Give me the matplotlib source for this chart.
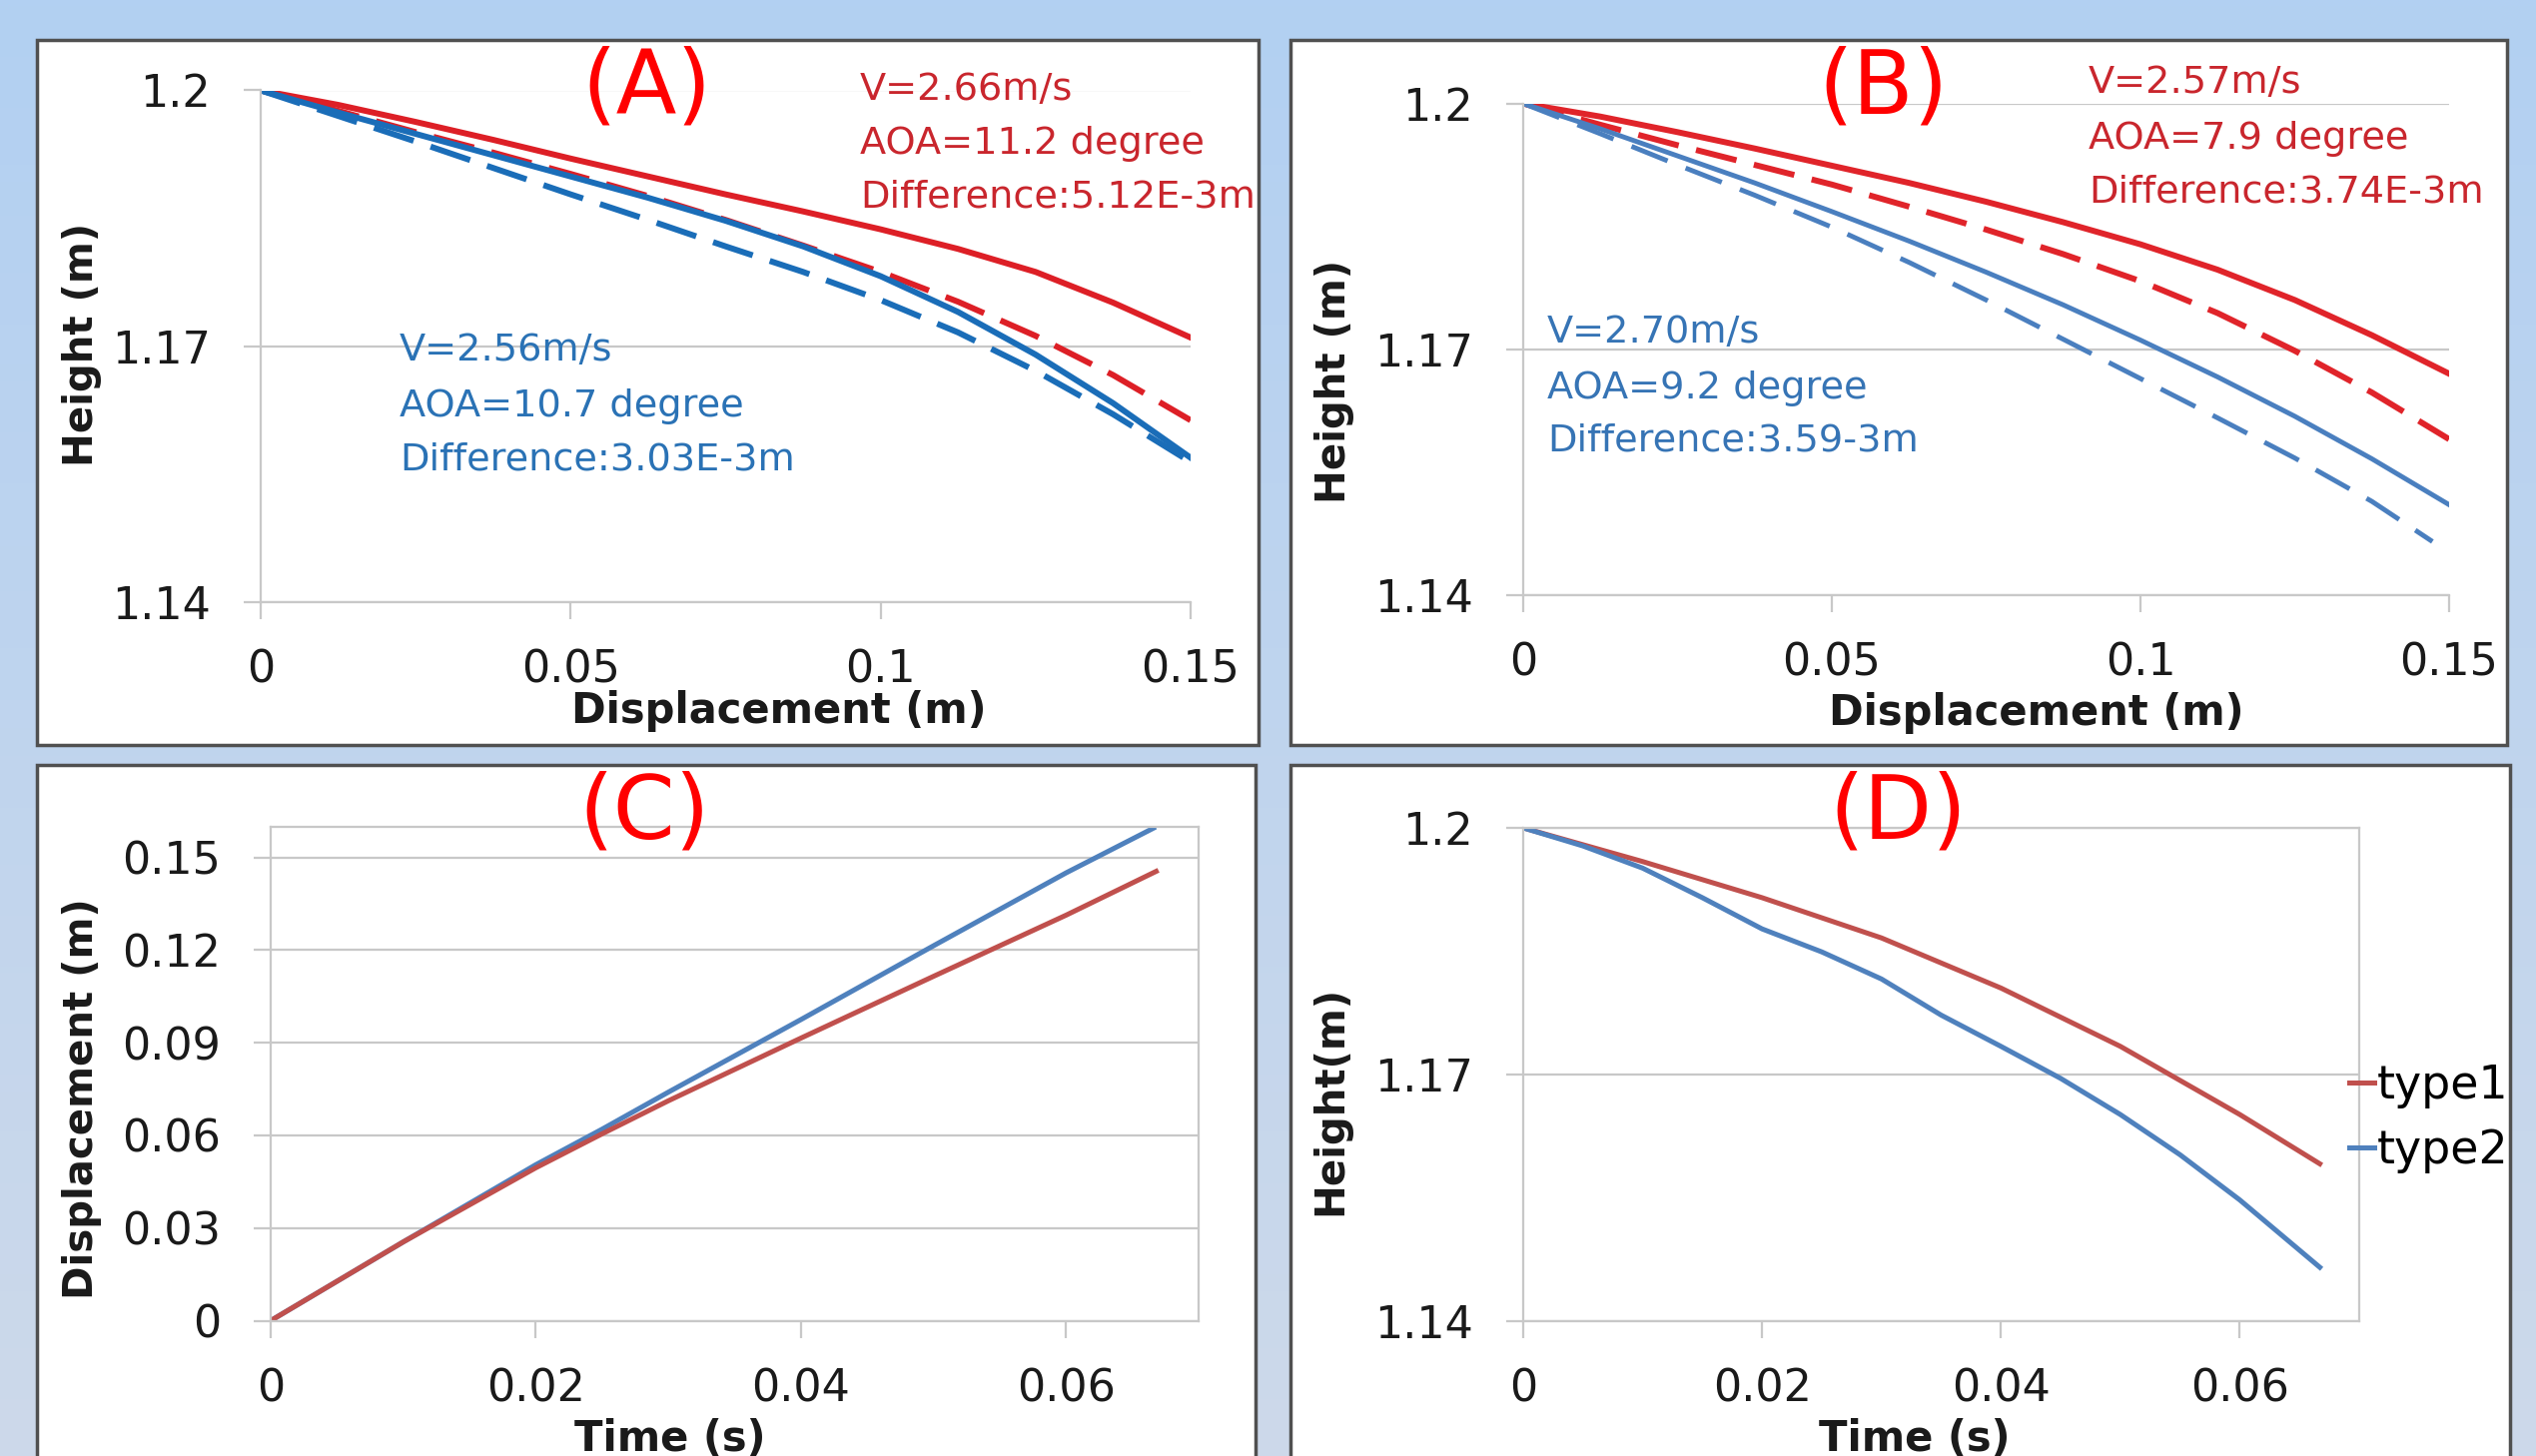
import numpy as np
import matplotlib
matplotlib.use("Agg")
import matplotlib.pyplot as plt
from matplotlib.patches import Rectangle

# ---- data ----
ab_x = [0, 0.0125, 0.025, 0.0375, 0.05, 0.0625, 0.075, 0.0875, 0.1, 0.1125,
        0.125, 0.1375, 0.15]
a_red_solid = [1.2, 1.1983, 1.1963, 1.1942, 1.1920, 1.1899, 1.1878, 1.1858,
               1.1837, 1.1814, 1.1787, 1.1751, 1.1710]
a_red_dash = [1.2, 1.1976, 1.1951, 1.1927, 1.1902, 1.1876, 1.1848, 1.1818,
              1.1787, 1.1752, 1.1712, 1.1666, 1.1613]
a_blue_solid = [1.2, 1.1974, 1.1949, 1.1924, 1.1899, 1.1874, 1.1847, 1.1817,
                1.1782, 1.1740, 1.1690, 1.1633, 1.1569]
a_blue_dash = [1.2, 1.1970, 1.1940, 1.1909, 1.1878, 1.1848, 1.1817, 1.1787,
               1.1754, 1.1716, 1.1671, 1.1620, 1.1564]

b_red_solid = [1.2, 1.1984, 1.1965, 1.1945, 1.1924, 1.1903, 1.1880, 1.1855,
               1.1828, 1.1797, 1.1760, 1.1717, 1.1670]
b_red_dash = [1.2, 1.1974, 1.1949, 1.1925, 1.1901, 1.1874, 1.1846, 1.1816,
              1.1783, 1.1744, 1.1698, 1.1647, 1.1590]
b_blue_solid = [1.2, 1.1969, 1.1936, 1.1903, 1.1868, 1.1832, 1.1794, 1.1754,
                1.1711, 1.1666, 1.1618, 1.1566, 1.1510]
b_blue_dash_x = [0, 0.0125, 0.025, 0.0375, 0.05, 0.0625, 0.075, 0.0875, 0.1,
                 0.1125, 0.125, 0.1375, 0.1473]
b_blue_dash = [1.2, 1.1963, 1.1925, 1.1888, 1.1849, 1.1806, 1.1760, 1.1712,
               1.1664, 1.1616, 1.1567, 1.1514, 1.1465]

c_t1 = [0, 0.01, 0.02, 0.025, 0.03, 0.04, 0.05, 0.06, 0.0668]
c_type1 = [0, 0.0255, 0.0495, 0.0605, 0.0712, 0.0915, 0.1115, 0.1313, 0.1455]
c_t2 = [0, 0.01, 0.02, 0.025, 0.03, 0.04, 0.05, 0.06, 0.0666]
c_type2 = [0, 0.0255, 0.0505, 0.0620, 0.0740, 0.0975, 0.1214, 0.1450, 0.1595]

d_t1 = [0, 0.01, 0.02, 0.03, 0.04, 0.05, 0.06, 0.0667]
d_type1 = [1.2, 1.1959, 1.1915, 1.1866, 1.1805, 1.1734, 1.1651, 1.1591]
d_t2 = [0, 0.005, 0.01, 0.015, 0.02, 0.025, 0.03, 0.035, 0.04, 0.045, 0.05,
        0.055, 0.06, 0.0667]
d_type2 = [1.2, 1.1978, 1.1951, 1.1915, 1.1877, 1.1849, 1.1816, 1.1772, 1.1734,
           1.1695, 1.1651, 1.1602, 1.1547, 1.1465]

h_ticks = [1.14, 1.17, 1.2]
h_labels = ["1.14", "1.17", "1.2"]
disp_ticks = [0, 0.05, 0.1, 0.15]
disp_labels = ["0", "0.05", "0.1", "0.15"]
t_ticks = [0, 0.02, 0.04, 0.06]
t_labels = ["0", "0.02", "0.04", "0.06"]
c_yticks = [0, 0.03, 0.06, 0.09, 0.12, 0.15]
c_ylabels = ["0", "0.03", "0.06", "0.09", "0.12", "0.15"]

notes_a_red = ["V=2.66m/s", "AOA=11.2 degree", "Difference:5.12E-3m"]
notes_a_blue = ["V=2.56m/s", "AOA=10.7 degree", "Difference:3.03E-3m"]
notes_b_red = ["V=2.57m/s", "AOA=7.9 degree", "Difference:3.74E-3m"]
notes_b_blue = ["V=2.70m/s", "AOA=9.2 degree", "Difference:3.59-3m"]

W, H = 2539, 1458
fig = plt.figure(figsize=(W / 100, H / 100), dpi=100)


def box(x0, y0, x1, y1):
    # pixel box (top-left origin) -> figure fraction rect
    return [x0 / W, 1 - y1 / H, (x1 - x0) / W, (y1 - y0) / H]


# background gradient
bg = fig.add_axes([0, 0, 1, 1], zorder=-10)
top = np.array([0xb2, 0xd0, 0xf2]) / 255
bot = np.array([0xcd, 0xd9, 0xea]) / 255
g = np.linspace(0, 1, 256)[:, None, None]
bg.imshow(top * (1 - g) + bot * g, aspect="auto", extent=[0, 1, 0, 1])
bg.axis("off")

# white panels
for x0, y0, x1, y1 in [(37, 40, 1260, 746), (1292, 40, 2510, 746),
                       (37, 766, 1257, 1480), (1292, 766, 2513, 1480)]:
    r = box(x0, y0, x1, y1)
    fig.patches.append(Rectangle((r[0], r[1]), r[2], r[3], transform=fig.transFigure,
                                 facecolor="white", edgecolor="#505050", lw=2.5, zorder=-5))

GRID = "#c8c8c8"
TXT = "#1a1a1a"


def setup(ax, xlim, ylim, xt, xl, yt, yl, frame=False):
    ax.set_facecolor("none")
    ax.set_xlim(xlim)
    ax.set_ylim(ylim)
    ax.set_xticks(xt)
    ax.set_xticklabels(xl)
    ax.set_yticks(yt)
    ax.set_yticklabels(yl)
    ax.grid(axis="y", color=GRID, lw=1.6)
    ax.set_axisbelow(True)
    for s in ["left", "bottom", "top", "right"]:
        ax.spines[s].set_color(GRID)
        ax.spines[s].set_linewidth(1.6)
    if not frame:
        ax.spines["top"].set_visible(False)
        ax.spines["right"].set_visible(False)
    ax.tick_params(axis="x", length=12, width=1.6, color=GRID, pad=22,
                   labelsize=32, labelcolor=TXT)
    ax.tick_params(axis="y", length=12, width=1.6, color=GRID, pad=24,
                   labelsize=32, labelcolor=TXT)


def labels(ax, xlab, ylab, xpos, ypos):
    ax.set_xlabel(xlab, fontsize=30, fontweight="bold", color=TXT)
    ax.set_ylabel(ylab, fontsize=29, fontweight="bold", color=TXT)
    ax.xaxis.label.set_va("center")
    ax.yaxis.label.set_va("center")
    ax.xaxis.set_label_coords(*xpos)
    ax.yaxis.set_label_coords(*ypos)


def notes(ax, lines, x, ys, color):
    for s, y in zip(lines, ys):
        ax.text(x, y, s, transform=ax.transAxes, fontsize=27.5, color=color,
                ha="left", va="center")


# ---- (A) ----
axA = fig.add_axes(box(261, 90.5, 1192, 602.6))
setup(axA, (0, 0.15), (1.14, 1.2), disp_ticks, disp_labels, h_ticks, h_labels)
RA, BA = "#dd1f26", "#1a6db8"
axA.plot(ab_x, a_red_solid, color=RA, lw=4.3)
axA.plot(ab_x, a_red_dash, color=RA, lw=4.3, dashes=(7, 3))
axA.plot(ab_x, a_blue_solid, color=BA, lw=4.3)
axA.plot(ab_x, a_blue_dash, color=BA, lw=4.3, dashes=(7, 3))
labels(axA, "Displacement (m)", "Height (m)", (0.557, -0.214), (-0.192, 0.503))
notes(axA, notes_a_red, 0.6445, [1.0, 0.8955, 0.791], "#c9262d")
notes(axA, notes_a_blue, 0.1493, [0.4913, 0.382, 0.2773], "#2a72b5")

# ---- (B) ----
axB = fig.add_axes(box(1525, 103.6, 2452, 595.6))
setup(axB, (0, 0.15), (1.14, 1.2), disp_ticks, disp_labels, h_ticks, h_labels)
RB, BB = "#e0242a", "#4a7fbf"
axB.plot(ab_x, b_red_solid, color=RB, lw=4.3)
axB.plot(ab_x, b_red_dash, color=RB, lw=4.3, dashes=(7, 3))
axB.plot(ab_x, b_blue_solid, color=BB, lw=3.5)
axB.plot(b_blue_dash_x, b_blue_dash, color=BB, lw=3.5, dashes=(8, 4))
labels(axB, "Displacement (m)", "Height (m)", (0.5545, -0.241), (-0.204, 0.434))
notes(axB, notes_b_red, 0.6106, [1.0409, 0.9272, 0.8183], "#c9262d")
notes(axB, notes_b_blue, 0.0259, [0.5346, 0.4209, 0.3122], "#3674b5")

# ---- (C) ----
R2, B2 = "#c0504d", "#4f81bd"
axC = fig.add_axes(box(271, 827.7, 1200, 1322.5))
setup(axC, (0, 0.07), (0, 0.16), t_ticks, t_labels, c_yticks, c_ylabels, frame=True)
axC.plot(c_t2, c_type2, color=B2, lw=3.6)
axC.plot(c_t1, c_type1, color=R2, lw=3.6)
labels(axC, "Time (s)", "Displacement (m)", (0.4306, -0.2395), (-0.2034, 0.4497))

# ---- (D) ----
axD = fig.add_axes(box(1525, 829, 2362, 1322.5))
setup(axD, (0, 0.07), (1.14, 1.2), t_ticks, t_labels, h_ticks, h_labels, frame=True)
axD.plot(d_t1, d_type1, color=R2, lw=3.6, label="type1")
axD.plot(d_t2, d_type2, color=B2, lw=3.6, label="type2")
labels(axD, "Time (s)", "Height(m)", (0.468, -0.240), (-0.2306, 0.4468))
axD.legend(loc="center left", bbox_to_anchor=(2352 / W, 1 - 1120 / H),
           bbox_transform=fig.transFigure, frameon=False, fontsize=33,
           handlelength=0.55, handletextpad=0.05, labelspacing=0.42,
           borderpad=0, borderaxespad=0)

# panel letters
for s, x, y in [("(A)", 647, 89), ("(B)", 1886, 89), ("(C)", 645, 815), ("(D)", 1900, 815)]:
    fig.text(x / W, 1 - y / H, s, fontsize=64, color="#ff0000", ha="center", va="center")

fig.savefig("out.png", dpi=100)
